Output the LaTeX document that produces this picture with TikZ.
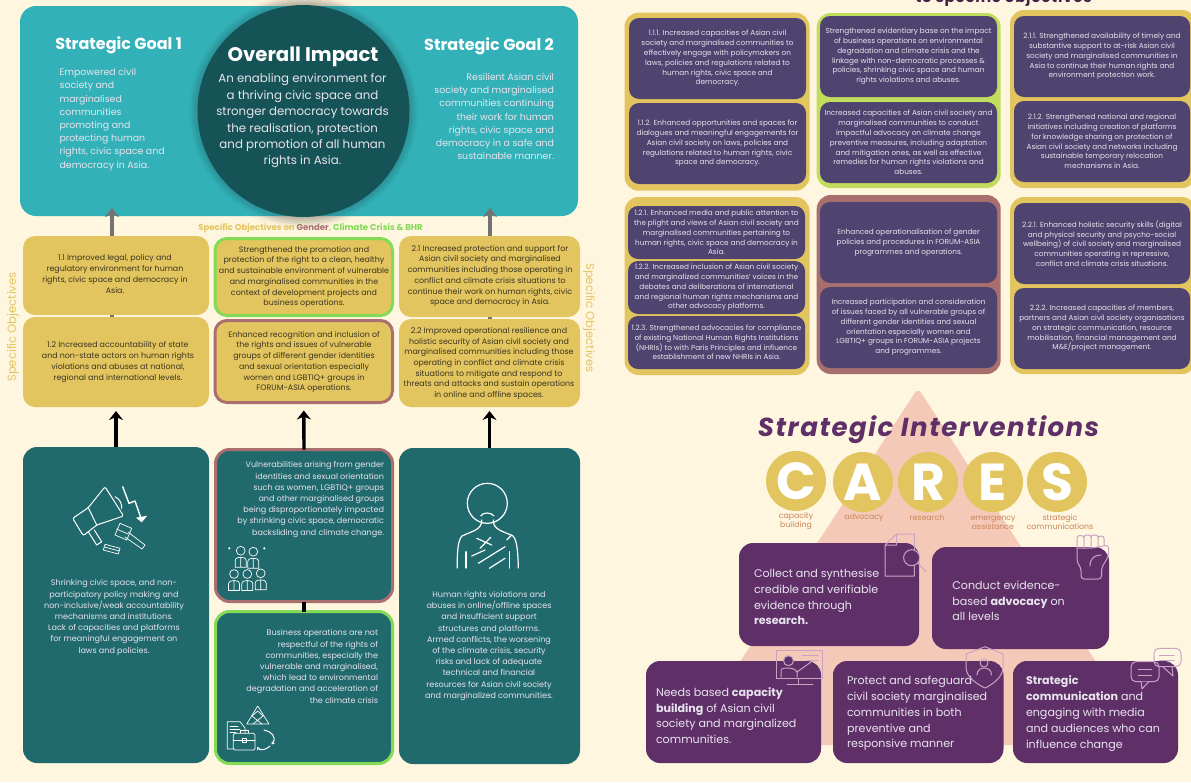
\documentclass[tikz,border=0pt]{standalone}
\usepackage{fontspec}
\setmainfont{Poppins}
\usetikzlibrary{arrows.meta,calc}
\definecolor{bgc}{HTML}{FFF6E0}
\definecolor{tealc}{HTML}{33B1B8}
\definecolor{deepc}{HTML}{165356}
\definecolor{darkt}{HTML}{20696D}
\definecolor{gold}{HTML}{E3C55F}
\definecolor{rose}{HTML}{A96F6F}
\definecolor{lime}{HTML}{82DA55}
\definecolor{limeb}{HTML}{C2DD5E}
\definecolor{slate}{HTML}{4F4470}
\definecolor{plum}{HTML}{5F3068}
\definecolor{pinkc}{HTML}{F5C9B8}
\definecolor{labc}{HTML}{C9855A}
\definecolor{icoc}{HTML}{C9A3C4}
\definecolor{ink}{HTML}{3A3420}
\definecolor{palet}{HTML}{E8E4EE}
\newcommand\card[7]{\node[#6,minimum width={(#4-#2)*1pt},minimum height={(#5-#3)*1pt}] (#1) at ({(#2+#4)/2},{(#3+#5)/2}) {#7};}
\tikzset{
 basebox/.style={rectangle,inner sep=0pt,outer sep=0pt,align=center},
 goalbox/.style={basebox,fill=tealc,rounded corners=16pt},
 yel/.style={basebox,fill=gold,rounded corners=12pt,text=ink,font=\fontsize{7.9}{10.7}\selectfont},
 yelg/.style={yel,draw=lime,line width=3pt},
 yelr/.style={yel,draw=rose,line width=3pt},
 lowbox/.style={basebox,fill=darkt,rounded corners=14pt},
 lowr/.style={lowbox,draw=rose,line width=3pt},
 lowg/.style={lowbox,draw=lime,line width=3pt},
 frameg/.style={basebox,fill=gold,rounded corners=14pt},
 framel/.style={basebox,fill=limeb,rounded corners=14pt},
 framer/.style={basebox,fill=rose,rounded corners=14pt},
 sl/.style={basebox,fill=slate,rounded corners=10pt,text=palet,font=\fontsize{7.3}{9.8}\selectfont},
 pu/.style={basebox,fill=plum,rounded corners=14pt},
 putxt/.style={basebox,align=left,text=palet,font=\fontsize{11.1}{15.8}\selectfont},
 lowtxt/.style={basebox,text=palet,font=\fontsize{8.05}{11.2}\selectfont},
 lowtxtr/.style={lowtxt,align=right},
 goalt/.style={basebox,text=white,font=\fontsize{16}{18}\selectfont\bfseries},
 goalb/.style={basebox,text=palet,font=\fontsize{9.4}{13.2}\selectfont},
 caplab/.style={basebox,text=labc,font=\fontsize{7.8}{9}\selectfont},
 letr/.style={circle,fill=gold,minimum size=60pt,inner sep=0pt,outer sep=0pt,text=white,font=\fontsize{52}{52}\selectfont\bfseries},
 sidelab/.style={basebox,text=gold,font=\fontsize{11.6}{13}\selectfont},
 garrow/.style={draw=black!55,line width=3.2pt,-{Stealth[length=9pt,width=14pt,inset=3pt]}},
 barrow/.style={draw=black,line width=3.4pt,-{Stealth[length=9pt,width=14pt,inset=3pt]}},
 ic/.style={draw=white,line width=1pt,line join=round,line cap=round},
 ict/.style={ic,line width=.7pt},
 icp/.style={draw=icoc,line width=1pt,line join=round,line cap=round},
}
\begin{document}
\begin{tikzpicture}[x=1pt,y=-1pt]
\useasboundingbox (0,0) rectangle (1191,782);
\fill[bgc] (0,0) rectangle (1191,782);
% circle glow over cream
\foreach \r in {118,116,114,112,110,108}{\fill[black,opacity=.018] (303.5,111) circle[radius=\r pt];}
% ---- goal band
\card{band}{20}{6}{578}{216}{goalbox}{}
\foreach \r in {114,112,110,108}{\fill[black,opacity=.04] (303.5,111) circle[radius=\r pt];}
\node[circle,fill=deepc,minimum size=212pt,inner sep=0pt,outer sep=0pt] (impact) at (303.5,111) {};
\node[goalt] (g1t) at (118.6,45) {Strategic Goal 1};
\node[goalt] (g2t) at (489,46) {Strategic Goal 2};
\node[basebox,text=white,font=\fontsize{19.7}{22}\selectfont\bfseries] (imt) at (303,57) {Overall Impact};
\node[basebox,text=palet,font=\fontsize{11.8}{16.4}\selectfont] (imb) at (302.5,121) {An enabling environment for\\a thriving civic space and\\stronger democracy towards\\the realisation, protection\\and promotion of all human\\rights in Asia.};
\node[goalb,align=left,anchor=west] (g1b) at (59.6,119.5) {Empowered civil\\society and\\marginalised\\communities\\promoting and\\protecting human\\rights, civic space and\\democracy in Asia.};
\node[goalb,align=right,anchor=east] (g2b) at (554,116.5) {Resilient Asian civil\\society and marginalised\\communities continuing\\their work for human\\rights, civic space and\\democracy in a safe and\\sustainable manner.};
% ---- heading
\node[basebox,font=\fontsize{8.55}{10}\selectfont\bfseries,text=gold] (sohead) at (310.5,228) {Specific Objectives on \textcolor{rose}{Gender}, \textcolor{lime}{Climate Crisis \& BHR}};
\node[sidelab,rotate=90] (sol) at (13,327) {Specific Objectives};
\node[sidelab,rotate=-90] (sor) at (589,318) {Specific Objectives};
% ---- objectives
\coordinate (tipa) at (112,208);
\coordinate (tipb) at (490,208);
\card{o11}{23}{236}{209}{315}{yel}{}
\card{o12}{23}{317}{209}{407}{yel}{}
\card{om1}{215}{238.5}{392.5}{315.5}{yelg}{}
\card{om2}{215}{320.5}{392.5}{402.5}{yelr}{}
\card{o21}{399}{236}{580}{317}{yel}{}
\card{o22}{399}{319}{580}{407}{yel}{}
\node[yel,fill=none] (to11) at (115,274) {1.1 Improved legal, policy and\\regulatory environment for human\\rights, civic space and democracy in\\Asia.};
\node[yel,fill=none] (to12) at (118,362) {1.2 Increased accountability of state\\and non-state actors on human rights\\violations and abuses at national,\\regional and international levels.};
\node[yel,fill=none] (tom1) at (304,277) {Strengthened the promotion and\\protection of the right to a clean, healthy\\and sustainable environment of vulnerable\\and marginalised communities in the\\context of development projects and\\business operations.};
\node[yel,fill=none] (tom2) at (304,362) {Enhanced recognition and inclusion of\\the rights and issues of vulnerable\\groups of different gender identities\\and sexual orientation especially\\women and LGBTIQ+ groups in\\FORUM-ASIA operations.};
\node[yel,fill=none] (to21) at (490,276) {2.1 Increased protection and support for\\Asian civil society and marginalised\\communities including those operating in\\conflict and climate crisis situations to\\continue their work on human rights, civic\\space and democracy in Asia.};
\node[yel,fill=none] (to22) at (489,363.5) {2.2 Improved operational resilience and\\holistic security of Asian civil society and\\marginalised communities including those\\operating in conflict and climate crisis\\situations to mitigate and respond to\\threats and attacks and sustain operations\\in online and offline spaces.};
% ---- problems
\card{p1}{23}{447}{209}{763}{lowbox}{}
\card{pm1}{215.5}{449.5}{392.5}{601.5}{lowr}{}
\card{pm2}{215.5}{611.5}{392.5}{763.5}{lowg}{}
\card{p3}{399}{448}{580}{764}{lowbox}{}
\node[lowtxt] (tp1) at (114,617.5) {Shrinking civic space, and non-\\participatory policy making and\\non-inclusive/weak accountability\\mechanisms and institutions.\\Lack of capacities and platforms\\for meaningful engagement on\\laws and policies.};
\node[lowtxtr,anchor=east] (tpm1) at (384,499.5) {Vulnerabilities arising from gender\\identities and sexual orientation\\such as women, LGBTIQ+ groups\\and other marginalised groups\\being disproportionately impacted\\by shrinking civic space, democratic\\backsliding and climate change.};
\node[lowtxtr,anchor=east] (tpm2) at (378,666.5) {Business operations are not\\respectful of the rights of\\communities, especially the\\vulnerable and marginalised,\\which lead to environmental\\degradation and acceleration of\\the climate crisis};
\node[lowtxt] (tp3) at (489,646) {Human rights violations and\\abuses in online/offline spaces\\and insufficient support\\structures and platforms.\\Armed conflicts, the worsening\\of the climate crisis, security\\risks and lack of adequate\\technical and financial\\resources for Asian civil society\\and marginalized communities.};
% ---- connectors
\draw[garrow] (tipa |- o11.north) -- (tipa);
\draw[garrow] (tipb |- o21.north) -- (tipb);
\draw[draw=black!55,line width=3.2pt] (tipa |- o11.south) -- (tipa |- o12.north);
\draw[draw=black!55,line width=3.2pt] (tipb |- o21.south) -- (tipb |- o22.north);
\draw[barrow,shorten >=4pt] (p1.north) -- (o12.south);
\draw[barrow,shorten >=8pt] (pm1.north) -- (om2.south);
\draw[barrow,shorten >=4pt] (p3.north) -- (o22.south);
\draw[draw=black,line width=3.4pt] (pm1.south) -- (pm2.north);
% ---- icons lower left
\draw[ic,rounded corners=2pt] (72.7,518.3) -- (88.3,507.7) -- (105,486.7) -- (123.6,516) -- (96.7,525) -- (83.3,535.7) -- cycle;
\draw[ic] (88.3,507.7) -- (96.7,525);
\draw[ic] (88.3,531.7) -- (96.7,545) -- (101.7,541.7) -- (94.3,530);
\draw[ic] (115,496.7) .. controls (120,499) and (122,504) .. (121.7,508.3);
\draw[ic,line width=1.4pt] (122.7,486.7) -- (129,503.3) -- (135,501) -- (141,518.3);
\fill[white] (136,517.7) -- (147.3,515.7) -- (141.7,522.3) -- cycle;
\draw[ict] (120,523.3) -- (131.7,528.3) -- (126.7,540) -- (115,535) -- cycle;
\draw[ict] (116.5,529) -- (128,534);
\draw[ict] (128,532) -- (145,545) -- (142,549) -- (125,537);
\draw[ict] (105,544.3) -- (120,548.3) -- (118.3,554) -- (103.3,550) -- cycle (104.3,547) -- (119.3,551);
% person icon
\draw[ic,line width=1.2pt] (487.3,503.3) ellipse[x radius=20pt,y radius=20pt];
\draw[ic,line width=1.2pt] (480.7,516) .. controls (483,512) and (491,512) .. (494,516);
\draw[ic,line width=1.2pt] (481.7,520) .. controls (482,530) and (472,531) .. (462,536) .. controls (458,540) and (457,552) .. (457.3,568);
\draw[ic,line width=1.2pt] (493.3,520) .. controls (493,530) and (503,531) .. (513,536) .. controls (517,540) and (518,552) .. (518.3,568);
\draw[ic,line width=1.2pt] (466,551.7) -- (466,568) (509.3,551.7) -- (509.3,568);
\draw[ic,line width=1.2pt] (476.7,538.3) -- (491.7,545) (490.7,537.3) -- (480,548.3) (471.7,556) -- (485,550) (478.3,563.3) -- (505,546.7) (489.3,568.3) -- (505,558.3) (506.7,540) -- (511.7,535);
% people icon
\foreach \px/\py in {240.7/550.7,253.3/551.7,234/574,247.3/574,260.7/573.3}{
 \draw[ict] (\px,\py) circle[radius=4.4pt];
 \draw[ict] (\px-5.5,\py+16.5) -- (\px-5.5,\py+10) .. controls (\px-5.5,\py+7) and (\px-2,\py+6.5) .. (\px,\py+6.5) .. controls (\px+2,\py+6.5) and (\px+5.5,\py+7) .. (\px+5.5,\py+10) -- (\px+5.5,\py+16.5) -- cycle (\px,\py+6.5) -- (\px,\py+16.5);
}
\fill[white] (229.3,548.3) circle[radius=1.2pt] (264.3,548.3) circle[radius=1.2pt];
% business icon
\draw[ict] (257.7,706) -- (246.7,724) -- (269,724) -- cycle;
\draw[ict] (252,716) -- (262,724) (263,716) -- (253,724) (257.7,711) -- (252,716) (257.7,711) -- (263,716);
\draw[ict] (233,749) -- (227.3,749) -- (227.3,721.7) -- (240,721.7) -- (245,728) -- (245,733);
\draw[ict] (230,726) -- (238,726) (230,729) -- (240,729) (230,732) -- (236,732);
\draw[ict,rounded corners=1.5pt] (233.3,733.3) rectangle (255,750);
\draw[ict] (240,733) -- (240,730) -- (248,730) -- (248,733) (233.3,740) -- (255,740) (242.5,738) rectangle (246,742.5);
\draw[ic,-{Stealth[length=3pt,width=4pt]}] (264,730) .. controls (271,731) and (277,737) .. (271.7,744.5);
\draw[ic,-{Stealth[length=3pt,width=4pt]}] (270,746) .. controls (266,750) and (260,751) .. (257,747);
% ---- frames upper right
\card{f1}{624.5}{12.7}{809.5}{190.7}{frameg}{}
\card{f2}{816.7}{13}{1000.7}{188}{framel}{}
\card{f3}{1010}{10}{1196}{188}{frameg}{}
\card{f4}{624.5}{197}{809.5}{375}{frameg}{}
\card{f5}{816.7}{195}{1000.7}{374}{framer}{}
\card{f6}{1010}{197}{1196}{374}{frameg}{}
\card{s111}{629}{18}{806}{99}{sl}{1.1.1. Increased capacities of Asian civil\\society and marginalised communities to\\effectively engage with policymakers on\\laws, policies and regulations related to\\human rights, civic space and\\democracy.}
\card{s112}{629}{103}{806}{184}{sl}{1.1.2. Enhanced opportunities and spaces for\\dialogues and meaningful engagements for\\Asian civil society on laws, policies and\\regulations related to human rights, civic\\space and democracy.}
\card{sm1}{820}{16}{997}{97}{sl}{Strengthened evidentiary base on the impact\\of business operations on environmental\\degradation and climate crisis and the\\linkage with non-democratic processes \&\\policies, shrinking civic space and human\\rights violations and abuses.}
\card{sm2}{820}{102}{997}{183}{sl}{Increased capacities of Asian civil society and\\marginalised communities to conduct\\impactful advocacy on climate change\\preventive measures, including adaptation\\and mitigation ones, as well as effective\\remedies for human rights violations and\\abuses.}
\card{s211}{1014}{16}{1190}{97}{sl}{2.1.1. Strengthened availability of timely and\\substantive support to at-risk Asian civil\\society and marginalised communities in\\Asia to continue their human rights and\\environment protection work.}
\card{s212}{1014}{101}{1190}{182}{sl}{2.1.2. Strengthened national and regional\\initiatives including creation of platforms\\for knowledge sharing on protection of\\Asian civil society and networks including\\sustainable temporary relocation\\mechanisms in Asia.}
\card{s121}{628}{206}{805}{259}{sl}{1.2.1. Enhanced media and public attention to\\the plight and views of Asian civil society and\\marginalised communities pertaining to\\human rights, civic space and democracy in\\Asia.}
\card{s122}{628}{261}{805}{314}{sl}{1.2.2. Increased inclusion of Asian civil society\\and marginalized communities' voices in the\\debates and deliberations of international\\and regional human rights mechanisms and\\other advocacy platforms.}
\card{s123}{628}{316}{805}{369}{sl}{1.2.3. Strengthened advocacies for compliance\\of existing National Human Rights Institutions\\(NHRIs) to with Paris Principles and influence\\establishment of new NHRIs in Asia.}
\card{sm3}{820}{202}{997}{283}{sl}{Enhanced operationalisation of gender\\policies and procedures in FORUM-ASIA\\programmes and operations.}
\card{sm4}{820}{287}{997}{368}{sl}{Increased participation and consideration\\of issues faced by all vulnerable groups of\\different gender identities and sexual\\orientation especially women and\\LGBTIQ+ groups in FORUM-ASIA projects\\and programmes.}
\card{s221}{1014}{203}{1190}{284}{sl}{2.2.1. Enhanced holistic security skills (digital\\and physical security and psycho-social\\wellbeing) of civil society and marginalised\\communities operating in repressive,\\conflict and climate crisis situations.}
\card{s222}{1014}{288}{1190}{369}{sl}{2.2.2. Increased capacities of members,\\partners and Asian civil society organisations\\on strategic communication, resource\\mobilisation, financial management and\\M\&E/project management.}
\begin{scope}
\clip (0,0) rectangle (1191,782);
\node[anchor=base,inner sep=0pt,text=plum!70!black,font=\fontsize{15}{17}\selectfont\bfseries\addfontfeature{LetterSpace=5}] (cuttitle) at (1003.5,2.5) {to specific objectives};
\end{scope}
% ---- pyramid
\fill[pinkc,rounded corners=6pt] (918,388) -- (1150,745) -- (686,745) -- cycle;
\node[basebox,text=plum,font=\fontsize{26}{30}\selectfont\bfseries\itshape\addfontfeature{LetterSpace=6}] (sititle) at (928.5,430) {Strategic Interventions};
\node[letr] (lc) at (796,481) {C};
\node[letr] (la) at (863,482) {A};
\node[letr] (lr) at (928,482) {R};
\node[letr] (le) at (993,482) {E};
\node[letr] (ls) at (1057,482) {S};
\node[caplab] (cc) at (796,521) {capacity\\building};
\node[caplab] (ca) at (864,518) {advocacy};
\node[caplab] (cr) at (927,518) {research};
\node[caplab] (ce) at (993,523) {emergency\\assistance};
\node[caplab] (cs) at (1060,522) {strategic\\communications};
\card{i1}{739}{543}{919}{646}{pu}{}
\card{i2}{932}{547}{1109}{649}{pu}{}
\card{i3}{646}{661}{821}{763}{pu}{}
\card{i4}{833}{661}{1003.5}{763}{pu}{}
\card{i5}{1013}{661}{1178}{763}{pu}{}
\node[putxt,anchor=west] (ti1) at (754,597) {Collect and synthesise\\credible and verifiable\\evidence through\\\textbf{research.}};
\node[putxt,anchor=west] (ti2) at (952.4,601) {Conduct evidence-\\based \textbf{advocacy} on\\all levels};
\node[putxt,anchor=west] (ti3) at (656,715.6) {Needs based \textbf{capacity}\\\textbf{building} of Asian civil\\society and marginalized\\communities.};
\node[putxt,anchor=west] (ti4) at (847,713.5) {Protect and safeguard\\civil society marginalised\\communities in both\\preventive and\\responsive manner};
\node[putxt,anchor=west] (ti5) at (1026,713.5) {\textbf{Strategic}\\\textbf{communication} and\\engaging with media\\and audiences who can\\influence change};
% doc + magnifier
\draw[icp] (896.5,534) -- (914.4,534) -- (914.4,576) -- (885,576) -- (885,545) -- cycle (896.5,534) -- (896.5,545) -- (885,545);
\draw[icp,fill=plum] (911.6,557.7) circle[radius=8pt];
\draw[icp] (918,563.3) -- (926,571.7);
% fist
\draw[icp,rounded corners=2.5pt] (1077,548) -- (1077,535.5) -- (1084,535.5) -- (1084,548) (1084,548) -- (1084,535) -- (1091,535) -- (1091,548) (1091,548) -- (1091,535) -- (1098,535) -- (1098,546) (1098,546) -- (1098,536) -- (1104,536) -- (1104,545);
\draw[icp,rounded corners=3pt] (1077,548) -- (1077,562) -- (1081,568) -- (1081,579) -- (1101.5,579) -- (1101.5,568) -- (1108.5,556) -- (1108.5,545) -- (1092,548) -- (1077,548);
\draw[icp] (1090,566) .. controls (1090,558) and (1095,555) .. (1101,555);
% presentation
\draw[icp] (776,650.7) rectangle (822,678.3);
\draw[icp] (798,678.3) -- (798,684) (787.4,684) -- (812.5,684) (802,655.7) -- (818,655.7) (807,660) -- (818,660);
\draw[icp,fill=plum] (788.5,660.7) circle[radius=5pt];
\draw[icp] (781,677) -- (781,670) .. controls (782,667) and (795,667) .. (797,672) -- (811,662) (797,672) -- (797,677);
% shield
\draw[icp] (985,646.7) -- (1003,654) -- (1003,668) .. controls (1002,678) and (993,684) .. (985,688) .. controls (977,684) and (967,678) .. (966,668) -- (966,654) -- cycle;
\draw[icp] (984,663) circle[radius=4pt];
\draw[icp] (977,675) .. controls (977,670) and (981,668) .. (984,668) .. controls (988,668) and (991.5,670) .. (991.5,675);
% bubbles
\draw[icp,fill=plum,rounded corners=5pt] (1131,661.7) rectangle (1159,681.7);
\draw[icp,fill=plum] (1141,681.5) -- (1142,689) -- (1149,681.5);
\draw[icp] (1138,669.3) -- (1151.6,669.3) (1138,675) -- (1151.6,675);
\draw[icp,rounded corners=5pt] (1154,648.3) rectangle (1181,666.7);
\draw[icp] (1163,667) -- (1173,676) -- (1172,667);
\draw[icp] (1159.5,655) -- (1174,655) (1159.5,660.7) -- (1174,660.7);
\end{tikzpicture}
\end{document}
